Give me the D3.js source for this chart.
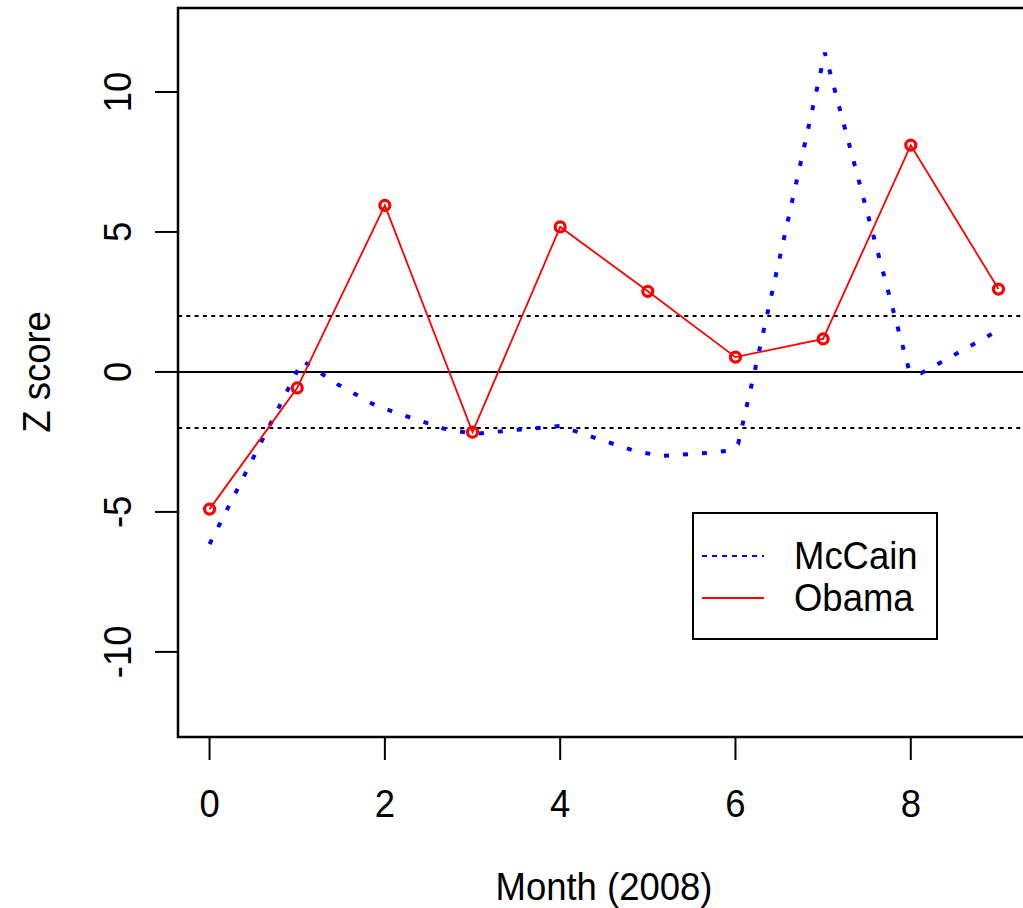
<!DOCTYPE html>
<html>
<head>
<meta charset="utf-8">
<script src="https://cdn.jsdelivr.net/npm/d3@7"></script>
<style>
  body { margin: 0; background: #fff; }
  text { font-family: "Liberation Sans", Arial, sans-serif; fill: #000; }
</style>
</head>
<body>
<svg id="chart" width="1023" height="908"></svg>
<script>
// Obama: one z score per month
var months = [0, 1, 2, 3, 4, 5, 6, 7, 8, 9];
var obama = [-4.9, -0.57, 5.95, -2.15, 5.18, 2.88, 0.53, 1.18, 8.1, 2.96];

// McCain curve is drawn finer than monthly, so trace its points (month, z)
var mccainMonth = [0, 1.06, 1.47, 1.9, 2.3, 2.72, 3.04, 3.36, 4.0, 4.43, 4.85, 5.15, 5.68, 5.89, 6.03, 6.22, 7.02, 7.98, 8.12, 8.33, 8.98];
var mccainZ = [-6.15, 0.4, -0.46, -1.21, -1.64, -2.07, -2.21, -2.11, -1.93, -2.39, -2.82, -3.0, -2.89, -2.82, -2.57, 0.04, 11.4, 0.07, -0.04, 0.32, 1.45];

var xTicks = [0, 2, 4, 6, 8];
var yTicks = [-10, -5, 0, 5, 10];
var refLines = [-2, 2];
var legendNames = ["McCain", "Obama"];

var svg = d3.select('#chart');

// plot region (right side runs off the page like the original)
var pLeft = 178, pRight = 1030, pTop = 8, pBottom = 737;

var x = d3.scaleLinear().domain([-0.36, 9.36]).range([pLeft, pRight]);
var y = d3.scaleLinear().domain([-13.04, 13.0]).range([pBottom, pTop]);

var fontSize = 38;
function label(g, txt, tx, ty, rot) {
  return g.append('text')
    .attr('transform', 'translate(' + tx + ',' + ty + ') rotate(' + rot + ') scale(0.96,1)')
    .attr('text-anchor', 'middle')
    .attr('dominant-baseline', 'central')
    .style('font-size', fontSize + 'px')
    .text(txt);
}

// reference lines
svg.selectAll('.ref')
  .data(refLines)
  .enter()
  .append('line')
  .attr('x1', pLeft).attr('x2', pRight)
  .attr('y1', function (d) { return y(d); })
  .attr('y2', function (d) { return y(d); })
  .attr('stroke', '#000')
  .attr('stroke-width', 2)
  .attr('stroke-dasharray', '4,4.3');

svg.append('line')
  .attr('x1', pLeft).attr('x2', pRight)
  .attr('y1', y(0)).attr('y2', y(0))
  .attr('stroke', '#000')
  .attr('stroke-width', 2);

// McCain, dotted blue
var mcLine = d3.line()
  .x(function (d, i) { return x(mccainMonth[i]); })
  .y(function (d) { return y(d); });

svg.append('path')
  .attr('d', mcLine(mccainZ))
  .attr('fill', 'none')
  .attr('stroke', '#0000ff')
  .attr('stroke-width', 4)
  .attr('stroke-dasharray', '5,14');

// Obama, solid red with open circles
var obLine = d3.line()
  .x(function (d, i) { return x(months[i]); })
  .y(function (d) { return y(d); });

svg.append('path')
  .attr('d', obLine(obama))
  .attr('fill', 'none')
  .attr('stroke', '#ff0000')
  .attr('stroke-width', 1.8);

svg.selectAll('.pt')
  .data(obama)
  .enter()
  .append('circle')
  .attr('cx', function (d, i) { return x(months[i]); })
  .attr('cy', function (d) { return y(d); })
  .attr('r', 5)
  .attr('fill', 'none')
  .attr('stroke', '#ff0000')
  .attr('stroke-width', 3.2);

// box
svg.append('rect')
  .attr('x', pLeft).attr('y', pTop)
  .attr('width', pRight - pLeft).attr('height', pBottom - pTop)
  .attr('fill', 'none')
  .attr('stroke', '#000')
  .attr('stroke-width', 2.5);

// x axis
var gx = svg.append('g');
gx.selectAll('line')
  .data(xTicks)
  .enter()
  .append('line')
  .attr('x1', function (d) { return x(d); })
  .attr('x2', function (d) { return x(d); })
  .attr('y1', pBottom).attr('y2', pBottom + 23)
  .attr('stroke', '#000')
  .attr('stroke-width', 2);
xTicks.forEach(function (d) {
  label(gx, d, x(d), 804, 0);
});
label(svg, 'Month (2008)', (pLeft + pRight) / 2, 887, 0);

// y axis
var gy = svg.append('g');
gy.selectAll('line')
  .data(yTicks)
  .enter()
  .append('line')
  .attr('x1', pLeft - 23).attr('x2', pLeft)
  .attr('y1', function (d) { return y(d); })
  .attr('y2', function (d) { return y(d); })
  .attr('stroke', '#000')
  .attr('stroke-width', 2);
yTicks.forEach(function (d) {
  label(gy, d, 118, y(d), -90);
});
label(svg, 'Z score', 37, y(0), -90);

// legend
var lg = svg.append('g');
lg.append('rect')
  .attr('x', 693).attr('y', 513)
  .attr('width', 244).attr('height', 126)
  .attr('fill', '#fff')
  .attr('stroke', '#000')
  .attr('stroke-width', 2);
var legendY = [556, 598];
lg.append('line')
  .attr('x1', 702).attr('x2', 764)
  .attr('y1', legendY[0]).attr('y2', legendY[0])
  .attr('stroke', '#0000ff').attr('stroke-width', 2)
  .attr('stroke-dasharray', '5,5');
lg.append('line')
  .attr('x1', 702).attr('x2', 764)
  .attr('y1', legendY[1]).attr('y2', legendY[1])
  .attr('stroke', '#ff0000').attr('stroke-width', 2);
legendNames.forEach(function (n, i) {
  lg.append('text')
    .attr('transform', 'translate(794,' + legendY[i] + ') scale(0.96,1)')
    .attr('dominant-baseline', 'central')
    .style('font-size', fontSize + 'px')
    .text(n);
});
</script>
</body>
</html>
